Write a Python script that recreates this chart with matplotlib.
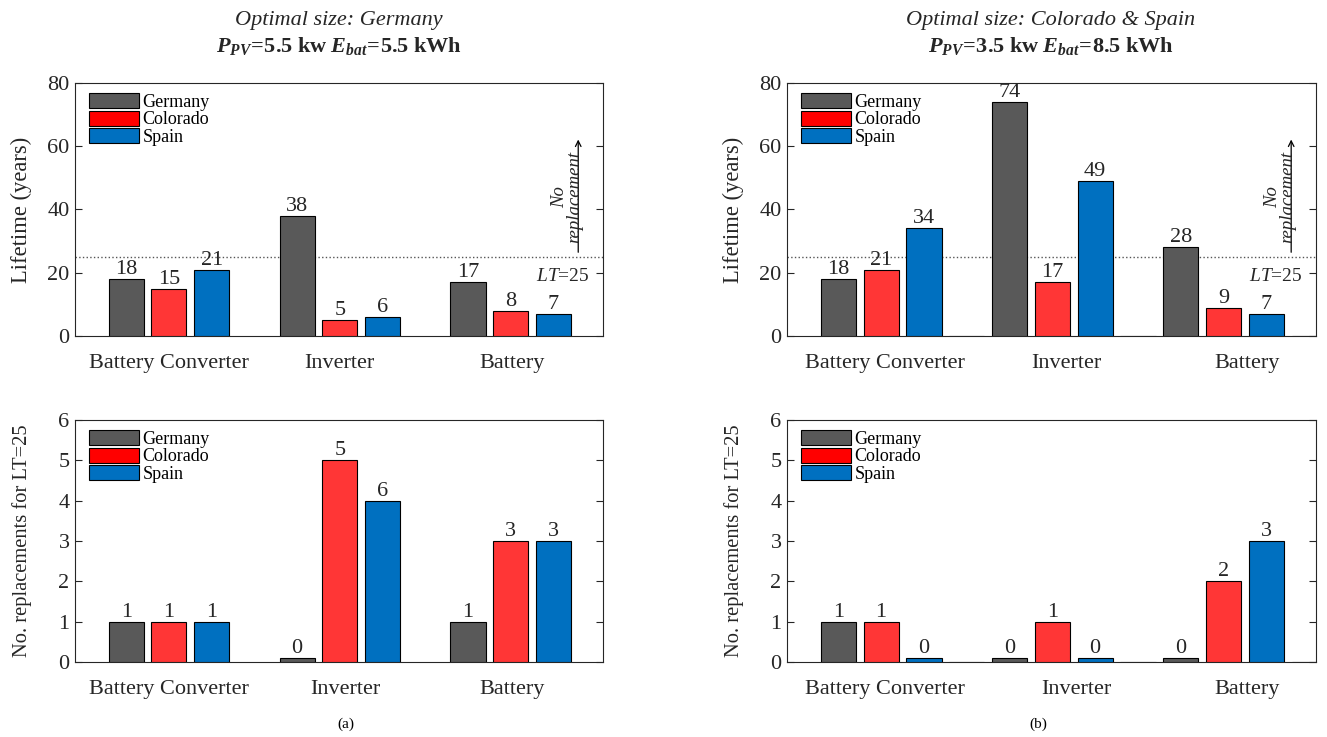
import matplotlib
matplotlib.use('Agg')
import matplotlib.pyplot as plt
from matplotlib.patches import Patch
import numpy as np

plt.rcParams['font.family'] = ['Liberation Serif', 'DejaVu Serif']
plt.rcParams['mathtext.fontset'] = 'custom'
plt.rcParams['mathtext.rm'] = 'Liberation Serif'
plt.rcParams['mathtext.it'] = 'Liberation Serif:italic'
plt.rcParams['mathtext.bf'] = 'Liberation Serif:bold'
plt.rcParams['mathtext.bfit'] = 'Liberation Serif:italic:bold'

# ---------------- data ----------------
components = ['Battery Converter', 'Inverter', 'Battery']
countries = ['Germany', 'Colorado', 'Spain']

# (a) optimal size: Germany
life_a_germany = [18, 38, 17]
life_a_colorado = [15, 5, 8]
life_a_spain = [21, 6, 7]
repl_a_germany = [1, 0.1, 1]
repl_a_colorado = [1, 5, 3]
repl_a_spain = [1, 4, 3]
repl_a_lab_germany = ['1', '0', '1']
repl_a_lab_colorado = ['1', '5', '3']
repl_a_lab_spain = ['1', '6', '3']

# (b) optimal size: Colorado & Spain
life_b_germany = [18, 74, 28]
life_b_colorado = [21, 17, 9]
life_b_spain = [34, 49, 7]
life_b_empty = [0, 0, 0]
repl_b_germany = [1, 0.1, 0.1]
repl_b_colorado = [1, 1, 2]
repl_b_spain = [0.1, 0.1, 3]
repl_b_empty = [0, 0, 0]
repl_b_lab_germany = ['1', '0', '0']
repl_b_lab_colorado = ['1', '1', '2']
repl_b_lab_spain = ['0', '0', '3']

lifetime_limit = 25

# ---------------- style ----------------
bar_colors = ['#595959', '#FF3636', '#0070C0']
legend_colors = ['#595959', '#FF0000', '#0070C0']
txt_col = '#262626'

fig = plt.figure(figsize=(13.27, 7.37), dpi=100)

W, H = 1327, 737
def axpos(l, r, t, b):
    return [l / W, 1 - b / H, (r - l) / W, (b - t) / H]

ax_tl = fig.add_axes(axpos(75, 603, 83, 336))
ax_bl = fig.add_axes(axpos(75, 603, 420, 662))
ax_tr = fig.add_axes(axpos(787, 1316, 83, 336))
ax_br = fig.add_axes(axpos(787, 1316, 420, 662))

xg = np.arange(1, len(components) + 1)
offsets = [-0.25, 0.0, 0.25]
bw = 0.205


def draw(ax, series, labels, ylim, yticks, ylabel, ylabel_size, cat_x, empty=None, lt=False):
    for i, (vals, labs) in enumerate(zip(series, labels)):
        xs = xg + offsets[i]
        ax.bar(xs, vals, width=bw, color=bar_colors[i], edgecolor='black',
               linewidth=0.8, zorder=3)
        for x, v, lab in zip(xs, vals, labs):
            ax.annotate(lab, (x, v), xytext=(0, 0), textcoords='offset points',
                        ha='center', va='bottom', fontsize=16, color=txt_col,
                        zorder=4)
    if empty is not None:
        ax.bar(xg + 0.5, empty, width=bw, color='#595959', edgecolor='black',
               linewidth=0.8, zorder=3)
    ax.set_xlim(0.45, 3.54)
    ax.set_ylim(*ylim)
    ax.set_yticks(yticks)
    ax.tick_params(axis='y', direction='in', left=True, right=True, length=5,
                   labelsize=16, labelcolor=txt_col, color=txt_col, width=0.8, pad=4)
    ax.set_xticks(cat_x)
    ax.set_xticklabels(components)
    ax.tick_params(axis='x', length=0, labelsize=16, labelcolor=txt_col, pad=13)
    for s in ax.spines.values():
        s.set_color(txt_col)
        s.set_linewidth(0.8)
    ax.set_ylabel(ylabel, fontsize=ylabel_size, color=txt_col)
    ax.yaxis.set_label_coords(-0.082, 0.5)
    handles = [Patch(facecolor=c, edgecolor='black', linewidth=0.8) for c in legend_colors]
    ax.legend(handles, countries, loc='upper left', frameon=False, fontsize=13,
              handlelength=2.75, handleheight=0.9, labelspacing=0.0,
              handletextpad=0.2, borderaxespad=0.15, bbox_to_anchor=(0.008, 1.0))
    if lt:
        ax.axhline(lifetime_limit, color='#555555', linestyle=':', linewidth=1.0, zorder=2)
        ax.text(3.46, 18.7, r'$\mathit{LT}$=25', ha='right', va='center',
                fontsize=14, color=txt_col)
        ax.annotate('', xy=(3.395, 63), xytext=(3.395, 25.6),
                    arrowprops=dict(arrowstyle='->', color='black', lw=0.9))
        ax.text(3.33, 44, 'No\nreplacement', rotation=90, ha='center', va='center',
                fontsize=13.5, style='italic', color=txt_col, linespacing=0.9)


draw(ax_tl, [life_a_germany, life_a_colorado, life_a_spain],
     [[str(v) for v in life_a_germany], [str(v) for v in life_a_colorado],
      [str(v) for v in life_a_spain]],
     (0, 80), [0, 20, 40, 60, 80], 'Lifetime (years)', 16.3, [1.0, 2.0, 3.01], lt=True)
draw(ax_bl, [repl_a_germany, repl_a_colorado, repl_a_spain],
     [repl_a_lab_germany, repl_a_lab_colorado, repl_a_lab_spain],
     (0, 6), [0, 1, 2, 3, 4, 5, 6], 'No. replacements for LT=25', 14.8, [1.0, 2.03, 3.01])
draw(ax_tr, [life_b_germany, life_b_colorado, life_b_spain],
     [[str(v) for v in life_b_germany], [str(v) for v in life_b_colorado],
      [str(v) for v in life_b_spain]],
     (0, 80), [0, 20, 40, 60, 80], 'Lifetime (years)', 16.3, [1.02, 2.08, 3.14],
     empty=life_b_empty, lt=True)
draw(ax_br, [repl_b_germany, repl_b_colorado, repl_b_spain],
     [repl_b_lab_germany, repl_b_lab_colorado, repl_b_lab_spain],
     (0, 6), [0, 1, 2, 3, 4, 5, 6], 'No. replacements for LT=25', 14.8, [1.02, 2.14, 3.14],
     empty=repl_b_empty)

# titles
fig.text(339 / W, 1 - 20 / H, 'Optimal size: Germany', ha='center', va='center',
         fontsize=16, style='italic', color=txt_col)
fig.text(339 / W, 1 - 46 / H,
         r'$\mathbfit{P}_{\mathbfit{PV}}\!\mathbf{=}\!\mathbf{5.5\ kw\ }\mathbfit{E}_{\mathbfit{bat}}\!\mathbf{=}\!\mathbf{5.5\ kWh}$',
         ha='center', va='center', fontsize=16, color=txt_col)
fig.text(1051 / W, 1 - 20 / H, 'Optimal size: Colorado & Spain', ha='center', va='center',
         fontsize=16, style='italic', color=txt_col)
fig.text(1051 / W, 1 - 46 / H,
         r'$\mathbfit{P}_{\mathbfit{PV}}\!\mathbf{=}\!\mathbf{3.5\ kw\ }\mathbfit{E}_{\mathbfit{bat}}\!\mathbf{=}\!\mathbf{8.5\ kWh}$',
         ha='center', va='center', fontsize=16, color=txt_col)

fig.text(346 / W, 1 - 724 / H, '(a)', ha='center', va='center', fontsize=11, color='black')
fig.text(1038 / W, 1 - 724 / H, '(b)', ha='center', va='center', fontsize=11, color='black')

fig.savefig('out.png', dpi=100)
